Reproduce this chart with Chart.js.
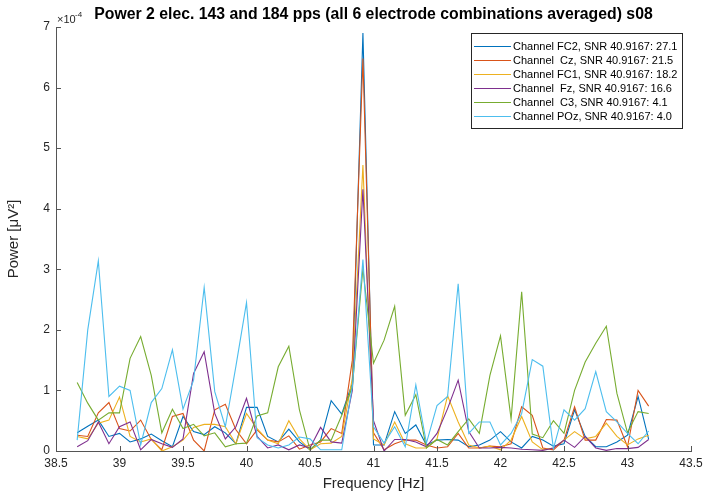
<!DOCTYPE html>
<html lang="en">
<head>
    <meta charset="UTF-8">
    <title>Power s08</title>
    <script src="https://cdn.jsdelivr.net/npm/chart.js@4.4.0/dist/chart.umd.min.js"></script>
    <style>
        body { margin: 0; background: #fff; }
    </style>
</head>
<body>
    <canvas id="myChart" width="720" height="495"></canvas>
<script>
    // frequency bins [Hz]
    const freqs = [38.6667, 38.75, 38.8333, 38.9167, 39, 39.0833, 39.1667, 39.25, 39.3333, 39.4167,
        39.5, 39.5833, 39.6667, 39.75, 39.8333, 39.9167, 40, 40.0833, 40.1667, 40.25,
        40.3333, 40.4167, 40.5, 40.5833, 40.6667, 40.75, 40.8333, 40.9167, 41, 41.0833,
        41.1667, 41.25, 41.3333, 41.4167, 41.5, 41.5833, 41.6667, 41.75, 41.8333, 41.9167,
        42, 42.0833, 42.1667, 42.25, 42.3333, 42.4167, 42.5, 42.5833, 42.6667, 42.75,
        42.8333, 42.9167, 43, 43.0833, 43.1667];

    // power, units of 1e-4 uV^2
    const fc2 = [0.3, 0.41, 0.51, 0.24, 0.29, 0.15, 0.2, 0.28, 0.17, 0.07,
        0.57, 0.32, 0.27, 0.4, 0.3, 0.12, 0.72, 0.72, 0.24, 0.15,
        0.36, 0.15, 0.02, 0.18, 0.83, 0.61, 1.12, 6.9, 0.1, 0.1,
        0.65, 0.29, 0.43, 0.1, 0.18, 0.19, 0.18, 0.07, 0.1, 0.18,
        0.32, 0.15, 0.05, 0.24, 0.18, 0.08, 0.12, 0.68, 0.24, 0.07,
        0.07, 0.15, 0.26, 0.9, 0.19];
    const cz = [0.26, 0.24, 0.63, 0.8, 0.37, 0.33, 0.51, 0.19, 0.02, 0.57,
        0.62, 0.18, 0, 0.68, 0.77, 0.35, 0.12, 0.35, 0.18, 0.15,
        0.25, 0.03, 0.1, 0.15, 0.37, 0.29, 1.5, 6.48, 0.3, 0.02,
        0.12, 0.18, 0.18, 0.1, 0.05, 0.07, 0.29, 0.05, 0.05, 0.08,
        0.07, 0.12, 0.73, 0.59, 0.05, 0.02, 0.18, 0.73, 0.18, 0.18,
        0.52, 0.51, 0.07, 1.0, 0.74];
    const fc1 = [0.24, 0.2, 0.46, 0.51, 0.89, 0.24, 0.15, 0.2, 0, 0.07,
        0.18, 0.39, 0.44, 0.44, 0.4, 0.12, 0.62, 0.37, 0.18, 0.12,
        0.5, 0.2, 0.02, 0.12, 0.13, 0.24, 1.2, 4.72, 0.2, 0.1,
        0.48, 0.12, 0.05, 0.05, 0.2, 0.91, 0.48, 0.1, 0.05, 0.08,
        0.02, 0.18, 0.57, 0.15, 0.02, 0.05, 0.18, 0.32, 0.2, 0.24,
        0.46, 0.24, 0.1, 0.2, 0.26];
    const fz = [0.07, 0.17, 0.48, 0.12, 0.4, 0.48, 0.02, 0.19, 0.12, 0.06,
        0.2, 1.28, 1.64, 0.62, 0.2, 0.4, 0.87, 0.24, 0.05, 0.1,
        0.02, 0.1, 0.05, 0.39, 0.15, 0.13, 1.0, 4.32, 0.5, 0,
        0.19, 0.19, 0.15, 0.07, 0.29, 0.7, 1.17, 0.32, 0.05, 0.05,
        0.06, 0.05, 0.03, 0.02, 0.01, 0.05, 0.18, 0.06, 0.24, 0.05,
        0.01, 0.04, 0.04, 0.06, 0.19];
    const c3 = [1.13, 0.79, 0.51, 0.63, 0.63, 1.53, 1.89, 1.25, 0.3, 0.69,
        0.37, 0.44, 0.25, 0.3, 0.07, 0.12, 0.13, 0.58, 0.63, 1.39,
        1.73, 0.68, 0.02, 0.18, 0.18, 0.59, 1.06, 3.01, 1.45, 1.83,
        2.39, 0.59, 0.93, 0.05, 0.19, 0.1, 0.32, 0.53, 0.29, 1.25,
        1.9, 0.53, 2.63, 0.28, 0.22, 0.5, 0.29, 1.0, 1.47, 1.78,
        2.06, 0.95, 0.3, 0.65, 0.62];
    const poz = [0.18, 2.0, 3.14, 0.9, 1.07, 1.0, 0.1, 0.8, 1.03, 1.67,
        0.69, 1.17, 2.7, 0.98, 0.4, 1.4, 2.45, 0.22, 0.1, 0.05,
        0.1, 0.23, 0.2, 0.02, 0.02, 0.02, 1.06, 3.16, 0.4, 0.13,
        0.4, 0.07, 1.09, 0.13, 0.75, 0.9, 2.76, 0.29, 0.48, 0.48,
        0.1, 0.29, 0.62, 1.51, 1.4, 0.04, 0.68, 0.51, 0.7, 1.31,
        0.65, 0.48, 0.29, 0.12, 0.33];

    const labels = ['Channel FC2, SNR 40.9167: 27.1', 'Channel  Cz, SNR 40.9167: 21.5',
        'Channel FC1, SNR 40.9167: 18.2', 'Channel  Fz, SNR 40.9167: 16.6',
        'Channel  C3, SNR 40.9167: 4.1', 'Channel POz, SNR 40.9167: 4.0'];
    const series = [fc2, cz, fc1, fz, c3, poz];
    const colors = ['#0072BD', '#D95319', '#EDB120', '#7E2F8E', '#77AC30', '#4DBEEE'];
    const xTicks = [38.5, 39, 39.5, 40, 40.5, 41, 41.5, 42, 42.5, 43, 43.5];
    const yTicks = [0, 1, 2, 3, 4, 5, 6, 7];

    const FONT = '"Liberation Sans", Arial, Helvetica, sans-serif';
    const AXC = '#262626';

    let datasets = series.map((s, i) => ({
        label: labels[i],
        data: s.map((v, k) => ({ x: freqs[k], y: v })),
        borderColor: colors[i],
        backgroundColor: colors[i],
        borderWidth: 1.1,
        pointRadius: 0,
        tension: 0,
        // matlab draws later lines on top
        order: series.length - i
    }));

    // title, exponent, inward ticks and boxed legend
    const extras = {
        id: 'extras',
        afterDraw(chart) {
            const ctx = chart.ctx;
            const a = chart.chartArea;
            const xs = chart.scales.x, ys = chart.scales.y;
            ctx.save();

            ctx.strokeStyle = '#555';
            ctx.lineWidth = 1;
            ctx.beginPath();
            xTicks.forEach(t => {
                let px = Math.round(xs.getPixelForValue(t)) + 0.5;
                ctx.moveTo(px, a.bottom);
                ctx.lineTo(px, a.bottom - 5);
            });
            yTicks.forEach(t => {
                let py = Math.round(ys.getPixelForValue(t)) + 0.5;
                ctx.moveTo(a.left, py);
                ctx.lineTo(a.left + 5, py);
            });
            ctx.stroke();

            ctx.fillStyle = '#000';
            ctx.font = 'bold 15.8px ' + FONT;
            ctx.textAlign = 'center';
            ctx.textBaseline = 'middle';
            ctx.fillText('Power 2 elec. 143 and 184 pps (all 6 electrode combinations averaged) s08', (a.left + a.right) / 2, 15);

            ctx.fillStyle = AXC;
            ctx.textAlign = 'left';
            ctx.textBaseline = 'alphabetic';
            ctx.font = '11px ' + FONT;
            ctx.fillText('\u00d710', a.left + 1, 23);
            ctx.font = '8px ' + FONT;
            ctx.fillText('-4', a.left + 19, 17);

            // legend
            let lx = 471, ly = 33, lw = 211, lh = 95;
            ctx.fillStyle = '#fff';
            ctx.fillRect(lx, ly, lw, lh);
            ctx.strokeStyle = AXC;
            ctx.strokeRect(lx + 0.5, ly + 0.5, lw, lh);
            ctx.font = '11px ' + FONT;
            ctx.textBaseline = 'middle';
            labels.forEach((lab, i) => {
                let yy = ly + 13.5 + i * 14;
                ctx.strokeStyle = colors[i];
                ctx.lineWidth = 1.1;
                ctx.beginPath();
                ctx.moveTo(lx + 3, yy);
                ctx.lineTo(lx + 40, yy);
                ctx.stroke();
                ctx.fillStyle = '#000';
                ctx.fillText(lab, lx + 42, yy);
            });
            ctx.restore();
        }
    };

    new Chart('myChart', {
        type: 'line',
        data: { datasets },
        options: {
            responsive: false,
            animation: false,
            devicePixelRatio: 1,
            layout: { padding: { top: 27, right: 29, left: 0, bottom: 0 } },
            plugins: { legend: { display: false }, tooltip: { enabled: false } },
            scales: {
                x: {
                    type: 'linear',
                    min: 38.5,
                    max: 43.5,
                    afterBuildTicks: s => { s.ticks = xTicks.map(v => ({ value: v })); },
                    afterFit: s => { s.height = 44; },
                    grid: { display: false, drawTicks: false, tickLength: 0 },
                    border: { display: true, color: '#555', width: 1 },
                    ticks: {
                        color: AXC, padding: 5, maxRotation: 0, autoSkip: false,
                        font: { family: FONT, size: 12 },
                        callback: v => String(v)
                    },
                    title: {
                        display: true, text: 'Frequency [Hz]', color: AXC,
                        font: { family: FONT, size: 15 }, padding: { top: 0, bottom: 2 }
                    }
                },
                y: {
                    min: 0,
                    max: 7,
                    afterBuildTicks: s => { s.ticks = yTicks.map(v => ({ value: v })); },
                    afterFit: s => { s.width = 56; },
                    grid: { display: false, drawTicks: false, tickLength: 0 },
                    border: { display: true, color: '#555', width: 1 },
                    ticks: { color: AXC, padding: 6, font: { family: FONT, size: 12 } },
                    title: {
                        display: true, text: 'Power [\u03bcV\u00b2]', color: AXC,
                        font: { family: FONT, size: 15 }, padding: { top: 5, bottom: 0 }
                    }
                }
            }
        },
        plugins: [extras]
    });
</script>
</body>
</html>
